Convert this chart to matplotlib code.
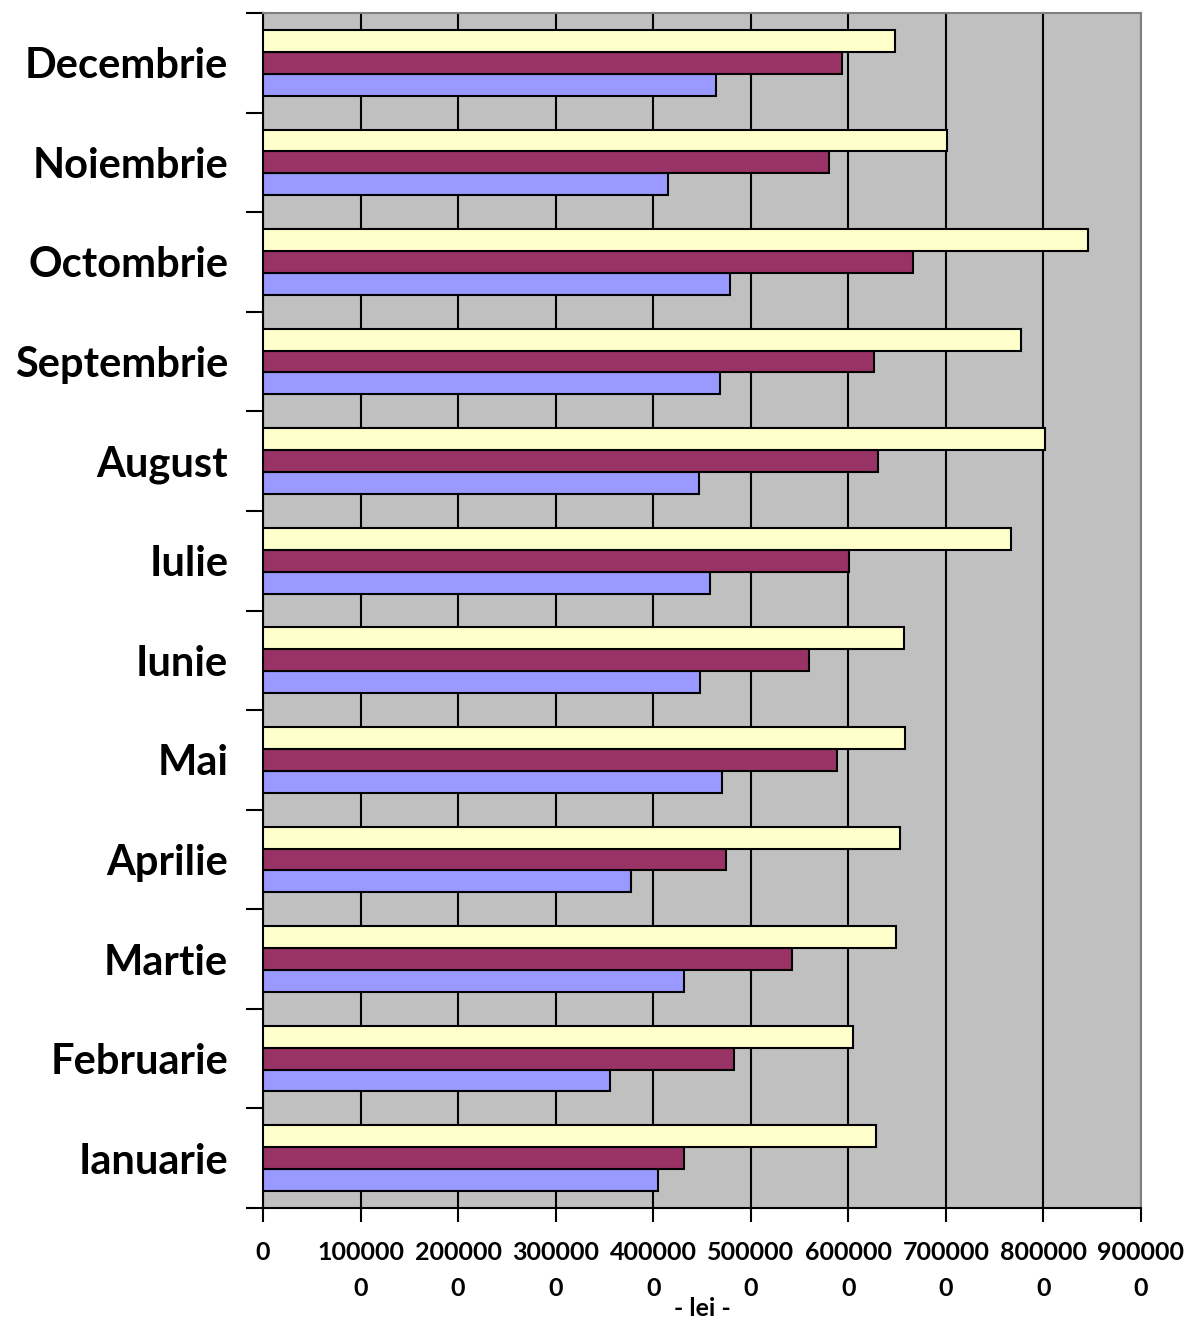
import matplotlib
matplotlib.use("Agg")
import matplotlib.pyplot as plt
import numpy as np

months = ["Ianuarie", "Februarie", "Martie", "Aprilie", "Mai", "Iunie",
          "Iulie", "August", "Septembrie", "Octombrie", "Noiembrie", "Decembrie"]
series_blue = [4.05e6, 3.56e6, 4.32e6, 3.77e6, 4.70e6, 4.48e6,
               4.58e6, 4.47e6, 4.68e6, 4.79e6, 4.15e6, 4.64e6]
series_purple = [4.32e6, 4.83e6, 5.42e6, 4.75e6, 5.88e6, 5.60e6,
                 6.01e6, 6.30e6, 6.26e6, 6.66e6, 5.80e6, 5.93e6]
series_yellow = [6.28e6, 6.05e6, 6.49e6, 6.53e6, 6.58e6, 6.57e6,
                 7.67e6, 8.02e6, 7.77e6, 8.46e6, 7.01e6, 6.48e6]
xticks = [0, 1000000, 2000000, 3000000, 4000000, 5000000, 6000000, 7000000, 8000000, 9000000]
xtick_labels = ["0", "100000\n0", "200000\n0", "300000\n0", "400000\n0", "500000\n0",
                "600000\n0", "700000\n0", "800000\n0", "900000\n0"]
xlabel = "- lei -"

FONT = ["Lato", "DejaVu Sans"]
plt.rcParams["font.family"] = FONT
plt.rcParams["font.weight"] = "bold"

fig = plt.figure(figsize=(11.85, 13.18), dpi=100)
ax = fig.add_axes([263/1185, 110/1318, 878/1185, 1195/1318])
ax.set_facecolor("#C0C0C0")

y = np.arange(len(months))
h = 0.22
kw = dict(height=h, edgecolor="black", linewidth=1.5, zorder=3)
ax.barh(y - h, series_blue, color="#9999FF", **kw)
ax.barh(y, series_purple, color="#993366", **kw)
ax.barh(y + h, series_yellow, color="#FFFFCC", **kw)

ax.set_xlim(0, 9000000)
ax.set_ylim(-0.5, len(months) - 0.5)

ax.set_xticks(xticks)
ax.set_xticklabels(xtick_labels, fontsize=18, fontweight="bold", linespacing=1.65)
ax.tick_params(axis="x", length=10, width=1.5, pad=14, direction="out")
ax.xaxis.grid(True, color="black", linewidth=1.5, zorder=1)
ax.set_axisbelow(True)

ax.set_yticks(np.arange(len(months) + 1) - 0.5)
ax.set_yticklabels([])
ax.tick_params(axis="y", which="major", length=12, width=1.5, direction="out")
ax.set_yticks(y, minor=True)
ax.set_yticklabels(months, minor=True, fontsize=30, fontweight="bold")
ax.tick_params(axis="y", which="minor", length=0, pad=25)

for s in ["left", "bottom"]:
    ax.spines[s].set_color("black")
    ax.spines[s].set_linewidth(1.5)
for s in ["top", "right"]:
    ax.spines[s].set_color("#808080")
    ax.spines[s].set_linewidth(1.5)

fig.text(702/1185, 1 - 1309/1318, xlabel, fontsize=18, fontweight="bold",
         ha="center", va="center")

fig.savefig("out.png", dpi=100)
